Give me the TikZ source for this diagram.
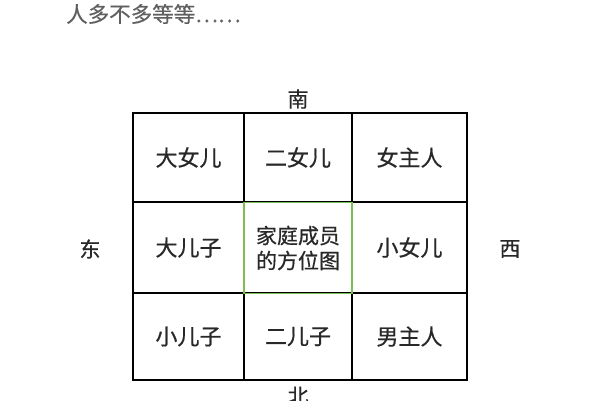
\documentclass[tikz,border=0pt]{standalone}
\usepackage{fontspec}
\setmainfont[FakeBold=0.5]{Noto Sans CJK SC}
\definecolor{txt}{RGB}{40,40,40}
\definecolor{toptxt}{RGB}{95,95,95}
\definecolor{cgreen}{RGB}{125,190,80}
\begin{document}
\begin{tikzpicture}[x=1pt,y=-1pt,
  cell/.style={draw=black,line width=1.6pt,inner sep=0pt,font=\fontsize{22}{25}\selectfont,text=txt,align=center},
  dirlabel/.style={font=\fontsize{21}{24}\selectfont,text=txt,inner sep=0pt}]
\useasboundingbox (0,0) rectangle (600,400);
\clip (0,0) rectangle (600,400);
\fill[white] (0,0) rectangle (600,400);
\node[anchor=west,font=\fontsize{21.5}{24}\selectfont,text=toptxt,inner sep=0pt] (top) at (66,14) {人多不多等等……};
% row 1
\node[cell,minimum width=111pt,minimum height=89pt] (c11) at (188.5,157.5) {大女儿};
\node[cell,minimum width=108pt,minimum height=89pt] (c12) at (298,157.5) {二女儿};
\node[cell,minimum width=115pt,minimum height=89pt] (c13) at (409.5,157.5) {女主人};
% row 2
\node[cell,minimum width=111pt,minimum height=91pt] (c21) at (188.5,247.5) {大儿子};
\node[cell,minimum width=115pt,minimum height=91pt] (c23) at (409.5,247.5) {小女儿};
% row 3
\node[cell,minimum width=111pt,minimum height=87pt] (c31) at (188.5,336.5) {小儿子};
\node[cell,minimum width=108pt,minimum height=87pt] (c32) at (298,336.5) {二儿子};
\node[cell,minimum width=115pt,minimum height=87pt] (c33) at (409.5,336.5) {男主人};
% centre
\node[cell,draw=cgreen,line width=1.8pt,minimum width=108pt,minimum height=91pt,font=\fontsize{21}{25}\selectfont] (c22) at (298,248) {家庭成员\\的方位图};
% directions
\node[dirlabel] (south) at (298,99) {南};
\node[dirlabel] (north) at (298,396) {北};
\node[dirlabel] (east) at (90,249) {东};
\node[dirlabel] (west) at (510,249) {西};
\end{tikzpicture}
\end{document}
